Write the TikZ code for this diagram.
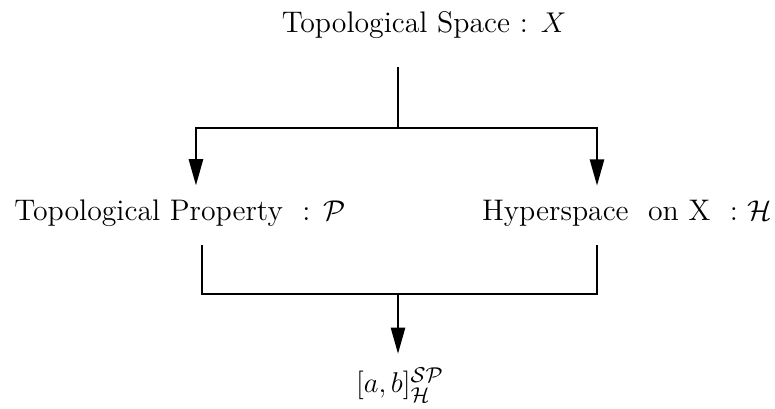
\documentclass[tikz,border=0pt]{standalone}
\usepackage{amsmath}
\usepackage{amssymb}
\usepackage{tikz}
\usetikzlibrary{arrows.meta,positioning}

\begin{document}
\begin{tikzpicture}[
  x=0.42pt,y=-0.42pt,
  lbl/.style={inner sep=0pt,outer sep=6pt,font=\fontsize{12.5}{15}\selectfont},
  fl/.style={-{Triangle[length=11pt,width=6pt]},thick},
  ln/.style={thick}]
  \useasboundingbox (0,0) rectangle (775,408);
  \node[lbl] (top) at (424,25) {Topological Space : $X$};
  \node[lbl] (prop) at (180,213) {Topological Property\ \ : $\mathcal{P}$};
  \node[lbl] (hyp) at (627,213) {Hyperspace\ \ on X\ \ : $\mathcal{H}$};
  \node[lbl] (res) at (400,385) {$[a,b]^{\mathcal{SP}}_{\mathcal{H}}$};
  \coordinate (jt) at (398,128);
  \coordinate (jb) at (398,294);
  \draw[ln] (jt |- top.south) ++(0,-6pt) -- (jt);
  \draw[fl] (jt) -| ([xshift=6.7pt]prop.north);
  \draw[fl] (jt) -| ([xshift=-12.6pt]hyp.north);
  \draw[ln] ([xshift=9.2pt,yshift=-2pt]prop.south) |- (jb) -| ([xshift=-12.6pt,yshift=-2pt]hyp.south);
  \draw[fl] (jb) -- (jb |- res.north);
\end{tikzpicture}
\end{document}
